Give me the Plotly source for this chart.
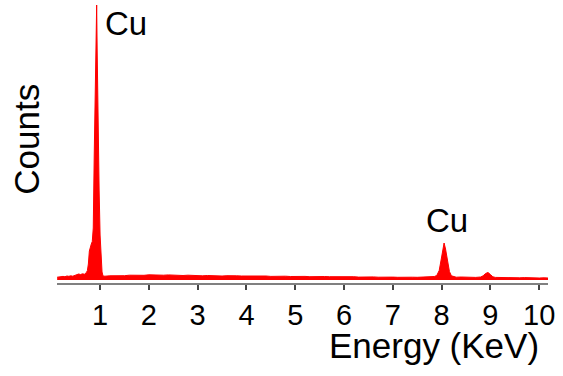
import plotly.graph_objects as go

# Energy (keV) and counts
energy = [
    0.12, 0.16, 0.20, 0.24, 0.28, 0.32, 0.36, 0.40, 0.44, 0.48, 0.52, 0.56, 0.60, 0.64, 0.68, 0.72,
    0.74, 0.76, 0.78, 0.80, 0.82, 0.84, 0.86, 0.88, 0.90, 0.92, 0.93, 0.94, 0.95, 0.96, 0.98, 1.00, 1.02, 1.04, 1.06,
    1.1, 1.2, 1.3, 1.4, 1.5, 1.6, 1.7, 1.8, 1.9, 2.0,
    2.1, 2.2, 2.3, 2.4, 2.5, 2.6, 2.7, 2.8, 2.9, 3.0,
    3.1, 3.2, 3.3, 3.4, 3.5, 3.6, 3.7, 3.8, 3.9, 4.0,
    4.1, 4.2, 4.3, 4.4, 4.5, 4.6, 4.7, 4.8, 4.9, 5.0,
    5.1, 5.2, 5.3, 5.4, 5.5, 5.6, 5.7, 5.8, 5.9, 6.0,
    6.1, 6.2, 6.3, 6.4, 6.5, 6.6, 6.7, 6.8, 6.9, 7.0,
    7.1, 7.2, 7.3, 7.4, 7.5, 7.6, 7.7, 7.8,
    7.85, 7.90, 7.95, 8.00, 8.03, 8.05, 8.08, 8.12, 8.16, 8.20, 8.25,
    8.3, 8.4, 8.5, 8.6, 8.7, 8.8,
    8.85, 8.90, 8.95, 9.00, 9.05,
    9.1, 9.2, 9.3, 9.4, 9.5, 9.6, 9.7, 9.8, 9.9, 10.0, 10.1, 10.18,
]
counts = [
    28, 32, 30, 36, 33, 40, 37, 42, 38, 48, 52, 60, 55, 62, 58, 75,
    95, 160, 290, 340, 360, 385, 520, 1250, 1800, 2450, 2750, 2300, 1850, 1600, 900, 450, 190, 80, 40,
    38, 42, 40, 45, 43, 48, 46, 50, 47, 52,
    49, 53, 48, 51, 47, 50, 45, 48, 44, 46,
    42, 45, 41, 44, 40, 43, 39, 42, 40, 41,
    38, 41, 37, 40, 36, 39, 37, 38, 35, 37,
    34, 36, 33, 35, 32, 35, 33, 34, 31, 33,
    30, 33, 29, 32, 30, 31, 28, 30, 27, 29,
    27, 29, 26, 28, 27, 29, 28, 30,
    35, 45, 95, 230, 340, 370, 310, 180, 85, 42, 32,
    28, 30, 27, 29, 26, 30,
    42, 65, 75, 55, 32,
    26, 24, 27, 23, 25, 22, 24, 21, 23, 20, 22, 20,
]
tick_vals = [1, 2, 3, 4, 5, 6, 7, 8, 9, 10]
peak_labels = ["Cu", "Cu"]
peak_pos = [0.93, 8.05]
peak_counts = [2750, 370]

FONT = "Arial, Liberation Sans, sans-serif"

fig = go.Figure()
fig.add_trace(go.Scatter(
    x=energy, y=counts, mode="lines", fill="tozeroy",
    line=dict(color="#ff0000", width=1), fillcolor="#ff0000",
    hoverinfo="skip", showlegend=False,
))

fig.update_layout(
    width=563, height=376,
    margin=dict(l=57, r=15, t=2, b=93),
    paper_bgcolor="white", plot_bgcolor="white",
    font=dict(family=FONT, color="black"),
    xaxis=dict(
        range=[0.117, 10.18], tickvals=tick_vals, ticktext=[str(v) for v in tick_vals],
        showgrid=False, zeroline=False, showline=True, linecolor="#808080", linewidth=2,
        ticks="outside", ticklen=5, tickwidth=2, tickcolor="#444",
        tickfont=dict(size=29, family=FONT, color="black"), ticklabelstandoff=0,
        automargin=False,
    ),
    yaxis=dict(range=[-30, 2780], visible=False, showgrid=False, zeroline=False),
)

fig.add_annotation(x=peak_pos[0], y=1, yref="paper", text=peak_labels[0], showarrow=False,
                   xanchor="left", yanchor="top", xshift=6, yshift=-1,
                   font=dict(size=33, family=FONT, color="black"))
fig.add_annotation(x=peak_pos[1] + 0.05, y=peak_counts[1], text=peak_labels[1], showarrow=False,
                   xanchor="center", yanchor="bottom", yshift=2,
                   font=dict(size=33, family=FONT, color="black"))
fig.add_annotation(x=10.04, y=0, yref="paper", text="Energy (KeV)", showarrow=False,
                   xanchor="right", yanchor="middle", yshift=-62,
                   font=dict(size=35, family=FONT, color="black"))
fig.add_annotation(x=0, xref="paper", y=0.51, yref="paper", text="Counts", showarrow=False,
                   textangle=-90, xanchor="center", yanchor="middle", xshift=-30,
                   font=dict(size=35, family=FONT, color="black"))

fig.write_html("out.html", post_script="document.body.style.margin='0';",
               config={"displayModeBar": False})
